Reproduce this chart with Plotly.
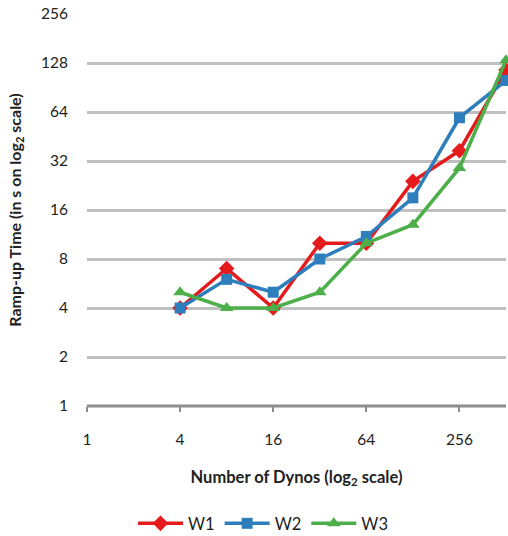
import numpy as np
import plotly.graph_objects as go

dynos = [4, 8, 16, 32, 64, 128, 256, 512]
w1 = [4, 7, 4, 10, 10, 24, 37, 116]
w2 = [4, 6, 5, 8, 11, 19, 59, 100]
w3 = [5, 4, 4, 5, 10, 13, 29, 133]

x_ticks = [1, 4, 16, 64, 256]
y_ticks = [1, 2, 4, 8, 16, 32, 64, 128, 256]

series = [
    ("W1", w1, "#e41a1c", "diamond", 12),
    ("W2", w2, "#2e7ebc", "square", 11),
    ("W3", w3, "#4daf4a", "triangle-up", 12),
]

fig = go.Figure()
for name, vals, color, sym, ms in series:
    fig.add_trace(go.Scatter(
        x=dynos, y=vals, name=name, mode="lines+markers",
        line=dict(color=color, width=3.5),
        marker=dict(symbol=sym, size=ms, color=color),
        cliponaxis=False,
    ))

font = "Lato, Open Sans, sans-serif"
fig.update_layout(
    width=508, height=536,
    margin=dict(l=87, r=2, t=14, b=130, autoexpand=False),
    plot_bgcolor="white", paper_bgcolor="white",
    font=dict(family=font, size=15.5, color="#222222"),
    showlegend=True,
    legend=dict(orientation="h", xref="paper", x=0.42, xanchor="center",
                yref="paper", y=-0.30, yanchor="middle",
                font=dict(size=16.5), itemwidth=45),
    xaxis=dict(
        type="log", range=[0, np.log10(512)],
        tickvals=x_ticks, ticktext=[str(v) for v in x_ticks],
        showgrid=False, showline=False, zeroline=False,
        ticks="outside", ticklen=5, tickwidth=2, tickcolor="#8c8c8c",
        ticklabelstandoff=14,
        title=dict(text="<b>Number of Dynos (log<sub>2</sub> scale)</b>",
                   font=dict(size=16.5), standoff=24),
    ),
    yaxis=dict(
        type="log", range=[0, np.log10(256)],
        tickvals=y_ticks, ticktext=[str(v) for v in y_ticks],
        showgrid=True, gridcolor="#c0c0c0", gridwidth=3,
        showline=False, zeroline=False, ticks="", ticklabelstandoff=18,
        title=dict(text="<b>Ramp-up Time (in s on log<sub>2</sub> scale)</b>",
                   font=dict(size=16), standoff=15),
    ),
)
fig.add_shape(type="line", xref="paper", yref="paper", x0=0, x1=1, y0=0, y1=0,
              line=dict(color="#8c8c8c", width=3), layer="below")

fig.write_html("out.html")
